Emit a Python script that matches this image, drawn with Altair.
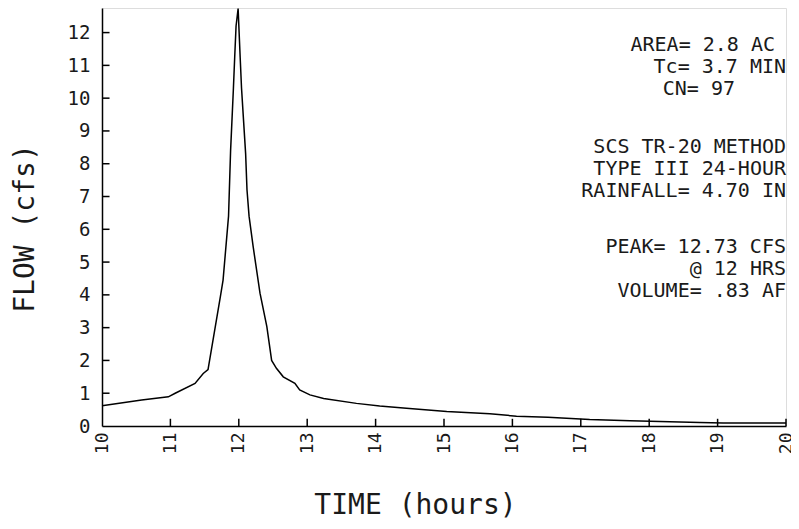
import altair as alt
import pandas as pd

# Hydrograph values
times = [10.0, 10.58, 10.97, 11.07, 11.36, 11.48, 11.55, 11.73, 11.77, 11.85, 11.88,
         11.92, 11.94, 11.96, 11.99, 12.02, 12.04, 12.07, 12.10, 12.12, 12.15, 12.21,
         12.31, 12.41, 12.48, 12.55, 12.65, 12.82, 12.89, 13.04, 13.24, 13.72, 14.06,
         14.45, 15.04, 15.67, 16.06, 16.52, 17.13, 17.72, 18.74, 19.08, 20.0]
flows = [0.62, 0.79, 0.89, 1.0, 1.3, 1.6, 1.72, 3.94, 4.45, 6.4, 8.4,
         10.24, 11.25, 12.2, 12.73, 11.25, 10.3, 9.3, 8.3, 7.2, 6.4, 5.47,
         4.05, 3.03, 2.0, 1.76, 1.5, 1.3, 1.1, 0.95, 0.84, 0.69, 0.61,
         0.54, 0.44, 0.37, 0.30, 0.27, 0.20, 0.16, 0.11, 0.09, 0.09]

x_ticks = [10, 11, 12, 13, 14, 15, 16, 17, 18, 19, 20]
y_ticks = [0, 1, 2, 3, 4, 5, 6, 7, 8, 9, 10, 11, 12]

notes = ["AREA= 2.8 AC", "Tc= 3.7 MIN", "CN= 97",
         "SCS TR-20 METHOD", "TYPE III 24-HOUR", "RAINFALL= 4.70 IN",
         "PEAK= 12.73 CFS", "@ 12 HRS", "VOLUME= .83 AF"]

FONT = "DejaVu Sans Mono"
INK = "#1a1a1a"

df = pd.DataFrame({"t": times, "q": flows})
xt = pd.DataFrame({"t": x_ticks[1:]})
yt = pd.DataFrame({"q": y_ticks[1:]})

xscale = alt.Scale(domain=[10, 20], nice=False, zero=False)
yscale = alt.Scale(domain=[0, 12.75], nice=False)

xaxis = alt.Axis(values=x_ticks, tickMinStep=1, format="d", grid=False, ticks=False, tickSize=0,
                 labelAngle=270, labelAlign="right", labelBaseline="middle",
                 labelPadding=6, labelFlush=False, labelOverlap=False,
                 labelFont=FONT, labelFontSize=18,
                 labelColor=INK, domainColor="black", domainWidth=1.5,
                 title="TIME (hours)", titleFont=FONT, titleFontSize=28,
                 titleFontWeight="normal", titleColor=INK,
                 titleX=313, titleY=79, titleAlign="center", titleBaseline="middle")
yaxis = alt.Axis(values=y_ticks, tickCount=13, tickMinStep=1, format="d", grid=False,
                 ticks=False, tickSize=0,
                 labelPadding=12, labelFont=FONT, labelFontSize=19, labelColor=INK,
                 labelBaseline="middle", labelOverlap=False, labelSeparation=0,
                 domainColor="black", domainWidth=1.5,
                 title="FLOW (cfs)", titleFont=FONT, titleFontSize=28,
                 titleFontWeight="normal", titleColor=INK, titleAngle=270,
                 titleX=-77, titleY=220, titleAlign="center", titleBaseline="middle")

line = alt.Chart(df).mark_line(color="black", strokeWidth=1.5).encode(
    x=alt.X("t:Q", scale=xscale, axis=xaxis, title="TIME (hours)"),
    y=alt.Y("q:Q", scale=yscale, axis=yaxis, title="FLOW (cfs)"),
)

xtick_marks = alt.Chart(xt).mark_rule(color="black", strokeWidth=1.5).encode(
    x=alt.X("t:Q", scale=xscale, axis=xaxis, title="TIME (hours)"),
    y=alt.datum(0),
    y2=alt.datum(0.22),
)
ytick_marks = alt.Chart(yt).mark_rule(color="black", strokeWidth=1.5).encode(
    y=alt.Y("q:Q", scale=yscale, axis=yaxis, title="FLOW (cfs)"),
    x=alt.datum(10),
    x2=alt.datum(10.11),
)

# annotation placement (page coords -> plot coords: x-102, y-8)
right_x = [775, 786, 735, 786, 786, 786, 786, 786, 786]
center_y = [45, 67, 89, 147, 169, 191, 247, 269, 291]
texts = []
for s, rx, cy in zip(notes, right_x, center_y):
    texts.append(
        alt.Chart(pd.DataFrame({"s": [s]})).mark_text(
            font=FONT, fontSize=20, color=INK, align="right", baseline="middle"
        ).encode(x=alt.value(rx - 102), y=alt.value(cy - 8), text="s:N")
    )

chart = alt.layer(line, xtick_marks, ytick_marks, *texts).properties(
    width=684, height=418,
    autosize=alt.AutoSizeParams(type="none"),
    padding={"left": 94, "top": 0, "right": 5, "bottom": 94},
).configure_view(stroke="transparent", strokeWidth=0).configure(background="white")

chart.save("out.html", embed_options={"renderer": "svg", "actions": False})
